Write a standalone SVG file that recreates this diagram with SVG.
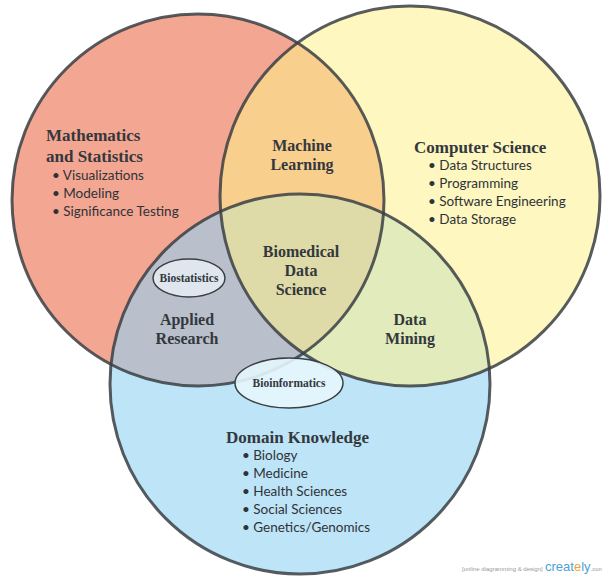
<svg xmlns="http://www.w3.org/2000/svg" width="602" height="579" viewBox="0 0 602 579">
<style>
.c{stroke:none}
.o{fill:none;stroke:#3a3f44;stroke-width:3;stroke-opacity:0.85}
.h{font-family:"Liberation Serif",serif;font-size:16px;font-weight:bold;fill:#33383d;text-anchor:middle}
.hl{font-family:"Liberation Serif",serif;font-size:17px;font-weight:bold;fill:#33383d}
.b{font-family:Lato,"Liberation Sans",sans-serif;font-size:13.5px;fill:#2e3338}
.s{font-family:"Liberation Serif",serif;font-size:11.5px;font-weight:bold;fill:#33383d;text-anchor:middle}
.e{stroke:#3a3f44;stroke-width:1.5}
</style>
<rect width="602" height="579" fill="#fff"/>
<g id="circles">
<circle id="math" class="c" cx="198" cy="200" r="186" fill="#ef8466" fill-opacity="0.72"/>
<circle id="domain" class="c" cx="300" cy="384" r="190" fill="#93d2f2" fill-opacity="0.6"/>
<circle id="cs" class="c" cx="410" cy="196" r="190" fill="#fdf08c" fill-opacity="0.55"/>
<circle class="o" cx="198" cy="200" r="186"/>
<circle class="o" cx="410" cy="196" r="190"/>
<circle class="o" cx="300" cy="384" r="190"/>
</g>
<g id="labels">
<text class="hl" x="46" y="141">Mathematics</text>
<text class="hl" x="46" y="162">and Statistics</text>
<text class="b" x="52" y="180">• Visualizations</text>
<text class="b" x="52" y="198">• Modeling</text>
<text class="b" x="52" y="216">• Significance Testing</text>
<text class="hl" x="414" y="153">Computer Science</text>
<text class="b" x="428" y="170">• Data Structures</text>
<text class="b" x="428" y="188">• Programming</text>
<text class="b" x="428" y="206">• Software Engineering</text>
<text class="b" x="428" y="224">• Data Storage</text>
<text class="hl" x="226" y="443">Domain Knowledge</text>
<text class="b" x="242" y="460">• Biology</text>
<text class="b" x="242" y="478">• Medicine</text>
<text class="b" x="242" y="496">• Health Sciences</text>
<text class="b" x="242" y="514">• Social Sciences</text>
<text class="b" x="242" y="532">• Genetics/Genomics</text>
<text class="h" x="302" y="151">Machine</text>
<text class="h" x="302" y="170">Learning</text>
<text class="h" x="301" y="257">Biomedical</text>
<text class="h" x="301" y="276">Data</text>
<text class="h" x="301" y="295">Science</text>
<text class="h" x="187" y="325">Applied</text>
<text class="h" x="187" y="344">Research</text>
<text class="h" x="410" y="325">Data</text>
<text class="h" x="410" y="344">Mining</text>
</g>
<g id="biostatistics">
<ellipse class="e" cx="189" cy="278" rx="36" ry="19" fill="#dfe6ee"/>
<text class="s" x="189" y="282">Biostatistics</text>
</g>
<g id="bioinformatics">
<ellipse class="e" cx="289" cy="383" rx="54" ry="25" fill="#e6f6fd" fill-opacity="0.9"/>
<text class="s" x="289" y="387">Bioinformatics</text>
</g>
<g id="watermark">
<text x="462" y="571" font-family="Liberation Sans,sans-serif" font-size="6" fill="#999">[online diagramming &amp; design]</text>
<text x="545" y="571" font-family="Liberation Sans,sans-serif" font-size="13" fill="#4aa3d8">creat<tspan fill="#f2a13a">e</tspan>ly<tspan font-size="6" fill="#999">.com</tspan></text>
</g>
</svg>
